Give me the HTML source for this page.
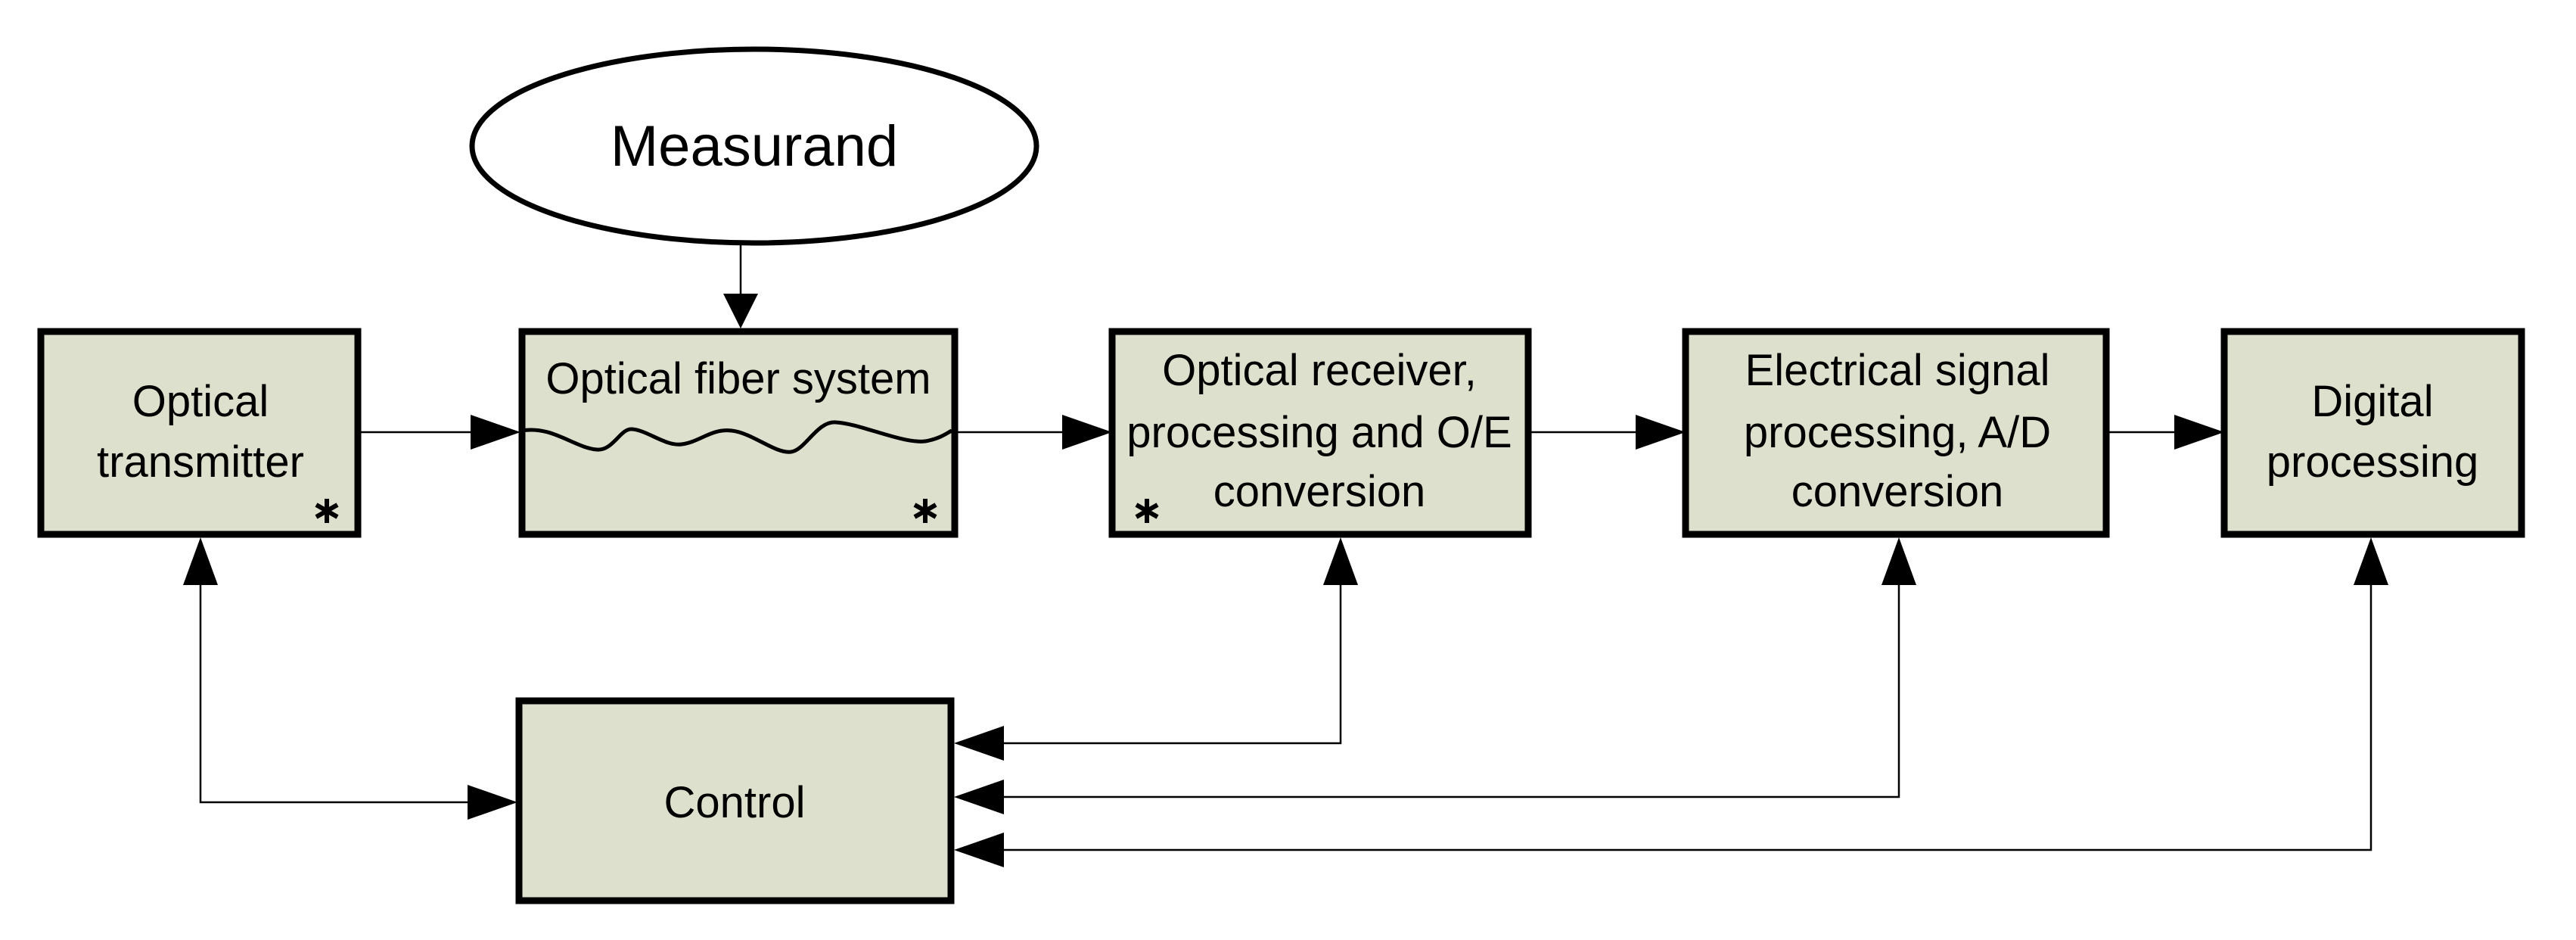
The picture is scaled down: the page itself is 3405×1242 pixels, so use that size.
<!DOCTYPE html>
<html><head><meta charset="utf-8"><style>
html,body{margin:0;padding:0;background:#fff;}
svg{display:block;}
text{font-family:"Liberation Sans",sans-serif;fill:#000;}
</style></head><body>
<svg width="3405" height="1242" viewBox="0 0 3405 1242" xmlns="http://www.w3.org/2000/svg">
<defs>
<g id="ast" stroke="#000" stroke-width="6" stroke-linecap="butt">
<line x1="0" y1="-16" x2="0" y2="16"/>
<line x1="-14" y1="-8" x2="14" y2="8"/>
<line x1="-14" y1="8" x2="14" y2="-8"/>
</g>
</defs>
<!-- Measurand -->
<ellipse cx="997" cy="193" rx="373" ry="128" fill="#fff" stroke="#000" stroke-width="7"/>
<text x="997" y="219" font-size="76" text-anchor="middle">Measurand</text>
<line x1="979" y1="321" x2="979" y2="390" stroke="#000" stroke-width="2.5"/>
<polygon points="956,388 1002,388 979,434" fill="#000"/>

<g fill="#dde0cc" stroke="#000" stroke-width="9">
<rect x="54" y="438" width="419" height="268"/>
<rect x="690" y="438" width="572" height="268"/>
<rect x="1470" y="438" width="550" height="268"/>
<rect x="2228" y="438" width="556" height="268"/>
<rect x="2940" y="438" width="393" height="268"/>
<rect x="686" y="926" width="571" height="264"/>
</g>

<!-- wave -->
<path d="M690,569 C730,562 760,592 789,594 C810,596 820,566 835,567 C855,568 880,590 901,587 C925,584 940,566 967,569 C995,572 1025,600 1046,597 C1065,594 1080,556 1105,558 C1140,560 1200,590 1228,582 C1245,578 1252,572 1258,569" fill="none" stroke="#000" stroke-width="5"/>

<g font-size="58" text-anchor="middle">
<text x="265" y="550">Optical</text>
<text x="265" y="630">transmitter</text>
<text x="976" y="520">Optical fiber system</text>
<text x="1744" y="509">Optical receiver,</text>
<text x="1744" y="591">processing and O/E</text>
<text x="1744" y="669">conversion</text>
<text x="2508" y="509">Electrical signal</text>
<text x="2508" y="591">processing, A/D</text>
<text x="2508" y="669">conversion</text>
<text x="3136" y="550">Digital</text>
<text x="3136" y="630">processing</text>
<text x="971" y="1080">Control</text>
</g>
<use href="#ast" x="432" y="675"/>
<use href="#ast" x="1223" y="675"/>
<use href="#ast" x="1516" y="675"/>

<!-- horizontal arrows -->
<g stroke="#000" stroke-width="2.5">
<line x1="477" y1="571" x2="630" y2="571"/>
<line x1="1262" y1="571" x2="1410" y2="571"/>
<line x1="2024" y1="571" x2="2170" y2="571"/>
<line x1="2788" y1="571" x2="2880" y2="571"/>
<polyline points="265,770 265,1060 625,1060" fill="none"/>
<polyline points="1772,770 1772,982 1325,982" fill="none"/>
<polyline points="2510,770 2510,1053 1325,1053" fill="none"/>
<polyline points="3134,770 3134,1123 1325,1123" fill="none"/>
</g>
<g fill="#000">
<polygon points="622,548 622,594 688,571"/>
<polygon points="1404,548 1404,594 1470,571"/>
<polygon points="2162,548 2162,594 2228,571"/>
<polygon points="2874,548 2874,594 2940,571"/>
<polygon points="242,773 288,773 265,710"/>
<polygon points="1749,773 1795,773 1772,710"/>
<polygon points="2487,773 2533,773 2510,710"/>
<polygon points="3111,773 3157,773 3134,710"/>
<polygon points="618,1037 618,1083 684,1060"/>
<polygon points="1327,959 1327,1005 1261,982"/>
<polygon points="1327,1030 1327,1076 1261,1053"/>
<polygon points="1327,1100 1327,1146 1261,1123"/>
</g>
</svg>
</body></html>
